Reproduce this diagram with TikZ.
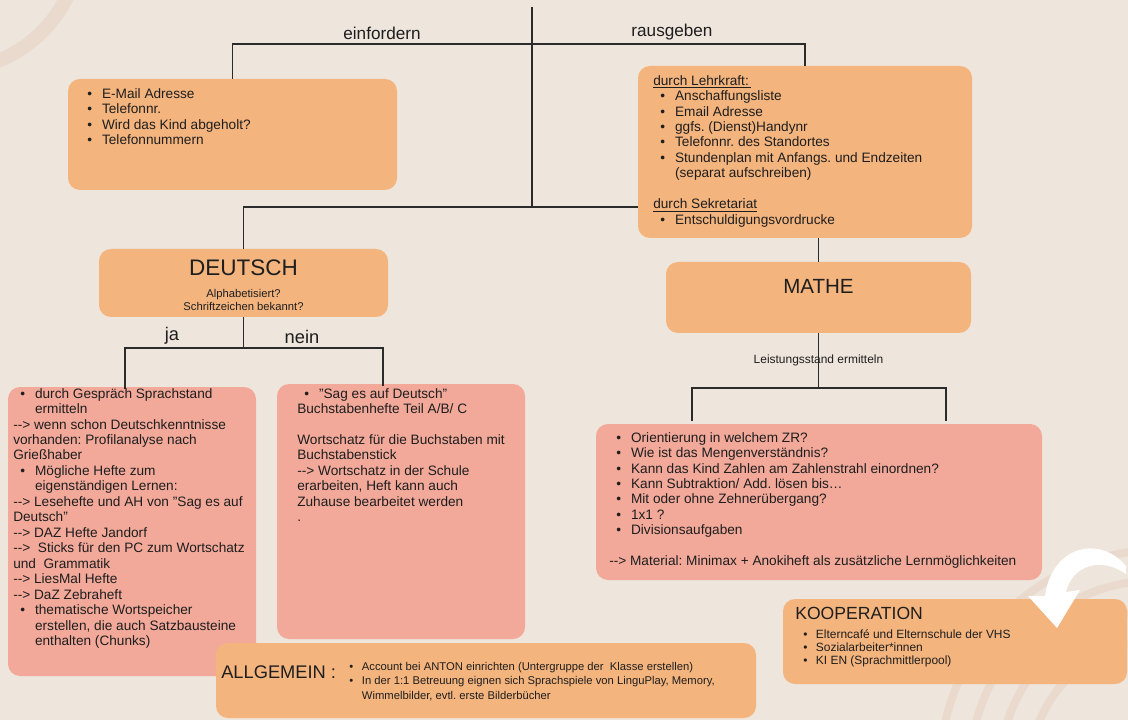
\documentclass[tikz,border=0pt]{standalone}
\usepackage{fontspec}
\setmainfont{Liberation Sans}
\usetikzlibrary{fit}
\definecolor{bgcol}{HTML}{EEE5DC}
\definecolor{bgarc}{HTML}{E9DACD}
\definecolor{orangebox}{HTML}{F4B47E}
\definecolor{salmonbox}{HTML}{F2A99A}
\definecolor{linecol}{HTML}{2B2B2B}
\definecolor{textcol}{HTML}{1E1E1E}
\newcommand{\bitem}{\hspace*{5pt}\makebox[10.5pt][l]{\textbullet}}
\newcommand{\cind}{\hspace*{15.5pt}}
\newcommand{\darr}{-\kern0pt-\kern0pt>}
\newcommand{\smbul}{\makebox[9pt][l]{\textbullet}}
\frenchspacing

\begin{document}
\begin{tikzpicture}[x=0.025cm, y=-0.025cm,
    obox/.style={fill=orangebox, rounded corners=0.3cm, inner sep=0pt},
    sbox/.style={fill=salmonbox, rounded corners=0.3cm, inner sep=0pt},
    body/.style={anchor=north west, inner sep=0pt, align=left, text=textcol, font=\fontsize{9.7}{11}\selectfont},
    lbl/.style={inner sep=0pt, text=textcol},
    conn/.style={draw=linecol, line width=1.2pt}]
    \useasboundingbox (0,0) rectangle (1128,720);
    \fill[bgcol] (0,0) rectangle (1128,720);
    \begin{scope}
        \clip (0,0) rectangle (1128,720);
        \draw[bgarc, line width=0.35cm] (-50,-60) circle (130);
        \foreach \r in {130,160,190,220}
            \draw[bgarc, line width=0.2cm] (1160,770) circle (\r);
    \end{scope}

    \node[obox, fit={(68,79) (397,190)}] (einf) {};
    \node[obox, fit={(638,66) (972,238)}] (rausg) {};
    \node[obox, fit={(99,249) (388,317)}] (deutsch) {};
    \node[obox, fit={(666,262) (971,333)}] (mathe) {};
    \node[sbox, fit={(8,387) (256,676)}] (ja) {};
    \node[sbox, fit={(277,384) (525,639)}] (nein) {};
    \node[sbox, fit={(596,424) (1042,580)}] (mliste) {};
    \node[obox, fit={(783,599) (1127,684)}] (koop) {};
    \node[obox, fit={(216,643) (756,718)}] (allg) {};

    \coordinate (stemtop) at (532,7);
    \coordinate (hub) at (532,207);
    \coordinate (bar) at (532,44);
    \draw[conn] (stemtop) -- (hub);
    \draw[conn] (einf.north) |- (bar) -| (rausg.north);
    \draw[conn] (deutsch.north) |- (hub) -- (hub -| rausg.west);
    \draw[conn] (mathe.north |- rausg.south) -- (mathe.north);
    \node[lbl, font=\fontsize{12.2}{14}\selectfont] (einflbl) at (382,33) {einfordern};
    \node[lbl, font=\fontsize{12.2}{14}\selectfont] (rausglbl) at (672,32) {rausgeben};

    \draw[conn] (deutsch.south) -- ++(0,31) coordinate (dsplit);
    \coordinate (jadrop) at (125,389);
    \coordinate (neindrop) at (383,386);
    \draw[conn] (jadrop) |- (dsplit) -| (neindrop);
    \node[lbl, font=\fontsize{13}{15}\selectfont] (jalbl) at (172,336) {ja};
    \node[lbl, font=\fontsize{13}{15}\selectfont] (neinlbl) at (302,337) {nein};

    \draw[conn] (mathe.south) -- ++(0,55) coordinate (msplit)
        node[lbl, midway, font=\fontsize{8.5}{10}\selectfont] (leistlbl) {Leistungsstand ermitteln};
    \coordinate (mleft) at (692,421);
    \coordinate (mright) at (946,421);
    \draw[conn] (mleft) |- (msplit) -| (mright);

    \node[body] (einftxt) at (80,87) {\strut\bitem E-Mail Adresse\\
        \bitem Telefonnr.\\
        \bitem Wird das Kind abgeholt?\\
        \bitem Telefonnummern};
    \node[body] (rausgtxt) at (653,74) {\strut\underline{durch Lehrkraft:\,}\\
        \bitem Anschaffungsliste\\
        \bitem Email Adresse\\
        \bitem ggfs. (Dienst)Handynr\\
        \bitem Telefonnr. des Standortes\\
        \bitem Stundenplan mit Anfangs. und Endzeiten\\
        \cind (separat aufschreiben)\\
        \mbox{}\\
        \underline{durch Sekretariat}\\
        \bitem Entschuldigungsvordrucke};
    \node[lbl, font=\fontsize{16}{19}\selectfont] (deutschlbl) at (243.5,268) {DEUTSCH};
    \node[lbl, align=center, font=\fontsize{8}{9.3}\selectfont] (deutschsub) at (243.5,300) {Alphabetisiert?\\Schriftzeichen bekannt?};
    \node[lbl, font=\fontsize{14.6}{17}\selectfont] (mathelbl) at (818.5,286) {MATHE};

    \node[body] (jatxt) at (13,387) {\strut\bitem durch Gespräch Sprachstand\\
        \cind ermitteln\\
        \darr{} wenn schon Deutschkenntnisse\\
        vorhanden: Profilanalyse nach\\
        Grießhaber\\
        \bitem Mögliche Hefte zum\\
        \cind eigenständigen Lernen:\\
        \darr{} Lesehefte und AH von "Sag es auf\\
        Deutsch"\\
        \darr{} DAZ Hefte Jandorf\\
        \darr{}\ \ Sticks für den PC zum Wortschatz\\
        und\ \ Grammatik\\
        \darr{} LiesMal Hefte\\
        \darr{} DaZ Zebraheft\\
        \bitem thematische Wortspeicher\\
        \cind erstellen, die auch Satzbausteine\\
        \cind enthalten (Chunks)};
    \node[body] (neintxt) at (297,387) {\strut\bitem "Sag es auf Deutsch"\\
        Buchstabenhefte Teil A/B/ C\\
        \mbox{}\\
        Wortschatz für die Buchstaben mit\\
        Buchstabenstick\\
        \darr{} Wortschatz in der Schule\\
        erarbeiten, Heft kann auch\\
        Zuhause bearbeitet werden\\
        .};
    \node[body] (mtxt) at (609,431) {\strut\bitem Orientierung in welchem ZR?\\
        \bitem Wie ist das Mengenverständnis?\\
        \bitem Kann das Kind Zahlen am Zahlenstrahl einordnen?\\
        \bitem Kann Subtraktion/ Add. lösen bis\dots\\
        \bitem Mit oder ohne Zehnerübergang?\\
        \bitem 1x1 ?\\
        \bitem Divisionsaufgaben\\
        \mbox{}\\
        \darr{} Material: Minimax + Anokiheft als zusätzliche Lernmöglichkeiten};

    \node[lbl, anchor=west, font=\fontsize{12.5}{15}\selectfont] (kooplbl) at (795,613) {KOOPERATION};
    \node[body, font=\fontsize{8.5}{9.2}\selectfont] (kooptxt) at (803,629) {\strut\smbul Elterncafé und Elternschule der VHS\\
        \smbul Sozialarbeiter*innen\\
        \smbul KI EN (Sprachmittlerpool)};
    \node[lbl, anchor=west, font=\fontsize{13}{15}\selectfont] (allglbl) at (221,672) {ALLGEMEIN :};
    \node[body, font=\fontsize{8}{10.3}\selectfont] (allgtxt) at (349,660) {\strut\smbul Account bei ANTON einrichten (Untergruppe der\ \ Klasse erstellen)\\
        \smbul In der 1:1 Betreuung eignen sich Sprachspiele von LinguPlay, Memory,\\
        \hspace*{9pt}Wimmelbilder, evtl. erste Bilderbücher};

    \fill[white] (1126,566) .. controls (1100,535) and (1052,545) .. (1045,596)
        -- (1028,596) -- (1057,628) -- (1080,590) -- (1066,592)
        .. controls (1072,566) and (1100,556) .. (1126,574) -- cycle;
\end{tikzpicture}
\end{document}
